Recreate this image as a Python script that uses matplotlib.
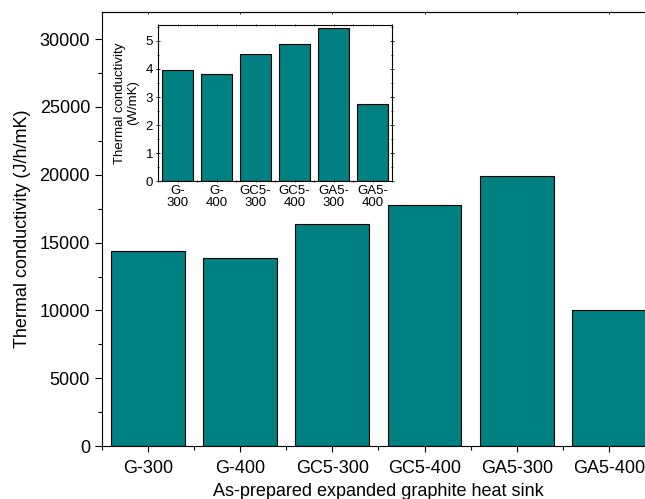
import numpy as np
import matplotlib.pyplot as plt
from matplotlib.ticker import MultipleLocator

plt.rcParams['font.family'] = ['Liberation Sans', 'DejaVu Sans']

samples = ["G-300", "G-400", "GC5-300", "GC5-400", "GA5-300", "GA5-400"]
inset_labels = ["G-\n300", "G-\n400", "GC5-\n300", "GC5-\n400", "GA5-\n300", "GA5-\n400"]
k_jhmk = [14370, 13850, 16360, 17760, 19900, 10020]
k_wmk = [3.96, 3.83, 4.52, 4.89, 5.47, 2.75]

bar_color = "#008080"

fig = plt.figure(figsize=(6.45, 4.99), dpi=100)

# main axes (runs off the right edge like the original scan)
ax = fig.add_axes([0.158, 0.106, 0.8575, 0.870])
x = np.arange(len(samples))
ax.bar(x, k_jhmk, width=0.8, color=bar_color, edgecolor="black", linewidth=0.8)
ax.set_xlim(-0.5, 5.5)
ax.set_ylim(0, 32000)
ax.set_xticks(x)
ax.set_xticklabels(samples, fontsize=13)
ax.xaxis.set_minor_locator(MultipleLocator(0.5))
ax.yaxis.set_major_locator(MultipleLocator(5000))
ax.yaxis.set_minor_locator(MultipleLocator(2500))
ax.tick_params(axis="y", labelsize=13, length=5, width=0.8)
ax.tick_params(axis="x", length=4, width=0.8, pad=6)
ax.tick_params(which="minor", length=3, width=0.8)
ax.tick_params(axis="x", which="both", top=True)
# tiny inward marks along the top edge
ax.tick_params(axis="x", which="both", direction="out", bottom=True)
ax.secondary_xaxis("top").tick_params(which="both", direction="in", length=1.5,
                                        width=0.6, labeltop=False)
ax.tick_params(axis="x", which="both", top=False)
ax.set_ylabel("Thermal conductivity (J/h/mK)", fontsize=13, labelpad=6)
ax.set_xlabel("As-prepared expanded graphite heat sink", fontsize=13, labelpad=4)
ax.spines["right"].set_visible(False)
for s in ax.spines.values():
    s.set_linewidth(0.8)

# inset with W/mK
ins = fig.add_axes([0.245, 0.637, 0.363, 0.313])
ins.bar(x, k_wmk, width=0.8, color=bar_color, edgecolor="black", linewidth=0.8)
ins.set_xlim(-0.5, 5.5)
ins.set_ylim(0, 5.57)
ins.set_xticks(x)
ins.set_xticklabels(inset_labels, fontsize=9.5, linespacing=1.0)
ins.yaxis.set_major_locator(MultipleLocator(1))
ins.yaxis.set_minor_locator(MultipleLocator(0.5))
ins.xaxis.set_minor_locator(MultipleLocator(0.5))
ins.tick_params(axis="y", which="both", labelsize=9.5, length=3, width=0.6, pad=2)
ins.tick_params(axis="y", which="minor", length=2)
ins.tick_params(axis="x", which="both", length=2, width=0.6, pad=2)
ins.tick_params(which="both", top=True, right=True)
for side in ("top", "right"):
    ins.tick_params(axis="x" if side == "top" else "y", which="both",
                    direction="inout")
ins.set_ylabel("Thermal conductivity\n(W/mK)", fontsize=9.5, linespacing=1.1, labelpad=5)
for s in ins.spines.values():
    s.set_linewidth(0.8)

fig.savefig("out.png", dpi=100)
